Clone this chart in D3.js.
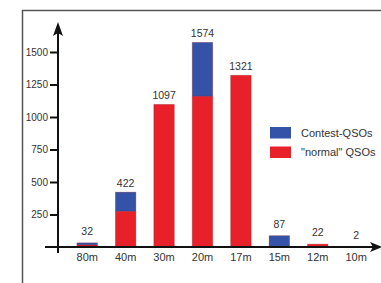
<!DOCTYPE html>
<html>
<head>
<meta charset="utf-8">
<script src="https://cdn.jsdelivr.net/npm/d3@7"></script>
<style>
  body { margin: 0; background: #fff; }
  text { font-family: "Liberation Sans", Arial, sans-serif; fill: #333; }
</style>
</head>
<body>
<div class="container"></div>
<script>
const bands = ["80m", "40m", "30m", "20m", "17m", "15m", "12m", "10m"];
const normal = [16, 275, 1097, 1160, 1321, 0, 22, 2];
const contest = [16, 147, 0, 414, 0, 87, 0, 0];
const totals = [32, 422, 1097, 1574, 1321, 87, 22, 2];
const yTicks = [250, 500, 750, 1000, 1250, 1500];
const keys = ["normal", "contest"];
const legendLabels = ["Contest-QSOs", "\"normal\" QSOs"];

const w = 381;
const h = 283;
const colors = { normal: "#e8202a", contest: "#3452a8" };

const rows = bands.map((b, i) => ({ band: b, normal: normal[i], contest: contest[i], total: totals[i] }));
const stacked = d3.stack().keys(keys)(rows);

const xScale = d3.scaleBand()
    .domain(bands)
    .range([68, 375.4])
    .paddingInner(0.467)
    .paddingOuter(0.2335);

const yScale = d3.scaleLinear()
    .domain([0, 1500])
    .range([247, 52]);

const svg = d3.select(".container")
    .append("svg")
    .attr("width", w)
    .attr("height", h);

// frame
svg.append("path")
    .attr("d", `M22.5,${h} V10.5 H${w}`)
    .attr("fill", "none")
    .attr("stroke", "#555")
    .attr("stroke-width", 1.5);

// bars
svg.selectAll("g.layer")
    .data(stacked)
    .enter()
    .append("g")
    .attr("class", "layer")
    .attr("fill", (d) => colors[d.key])
    .selectAll("rect")
    .data((d) => d)
    .enter()
    .append("rect")
    .attr("x", (d) => xScale(d.data.band))
    .attr("width", xScale.bandwidth())
    .attr("y", (d) => yScale(d[1]))
    .attr("height", (d) => yScale(d[0]) - yScale(d[1]))
    .attr("stroke", (d) => (d[1] > d[0] ? "#8a1a1a" : "none"))
    .attr("stroke-opacity", 0.35)
    .attr("stroke-width", 0.8);

// value labels
svg.selectAll("text.val")
    .data(rows)
    .enter()
    .append("text")
    .attr("class", "val")
    .attr("x", (d) => xScale(d.band) + xScale.bandwidth() / 2)
    .attr("y", (d) => yScale(d.total) - (d.total < 100 ? 8 : 5))
    .attr("text-anchor", "middle")
    .attr("font-size", 10.5)
    .text((d) => d.total);

// y axis
const yAxis = d3.axisLeft(yScale).tickValues(yTicks).tickFormat(d3.format("d")).tickSize(8).tickPadding(2);
const gy = svg.append("g").attr("transform", "translate(58,0)").call(yAxis);
gy.select(".domain").remove();
gy.selectAll(".tick line").attr("stroke", "#111").attr("stroke-width", 2);
gy.selectAll(".tick text").attr("font-size", 10).attr("fill", "#333")
    .style("font-family", "Liberation Sans, Arial, sans-serif");

svg.append("line")
    .attr("x1", 58).attr("x2", 58)
    .attr("y1", 253).attr("y2", 30)
    .attr("stroke", "#111").attr("stroke-width", 2);
svg.append("path")
    .attr("d", "M58,22 L53,36 L58,33 L63,36 Z")
    .attr("fill", "#111");

// x axis
const xAxis = d3.axisBottom(xScale).tickSize(0).tickPadding(6);
const gx = svg.append("g").attr("transform", "translate(0,247)").call(xAxis);
gx.select(".domain").remove();
gx.selectAll(".tick text").attr("font-size", 11).attr("fill", "#333")
    .style("font-family", "Liberation Sans, Arial, sans-serif");

svg.append("line")
    .attr("x1", 45).attr("x2", 374)
    .attr("y1", 247).attr("y2", 247)
    .attr("stroke", "#111").attr("stroke-width", 2);
svg.append("path")
    .attr("d", `M382,247 L370,242 L373,247 L370,252 Z`)
    .attr("fill", "#111");

// legend
const legend = svg.selectAll("g.legend")
    .data(["contest", "normal"])
    .enter()
    .append("g")
    .attr("class", "legend")
    .attr("transform", (d, i) => `translate(270,${127 + i * 19.5})`);
legend.append("rect")
    .attr("width", 21)
    .attr("height", 11.5)
    .attr("fill", (d) => colors[d]);
legend.append("text")
    .attr("x", 31)
    .attr("y", 9.5)
    .attr("font-size", 11)
    .text((d, i) => legendLabels[i]);
</script>
</body>
</html>
